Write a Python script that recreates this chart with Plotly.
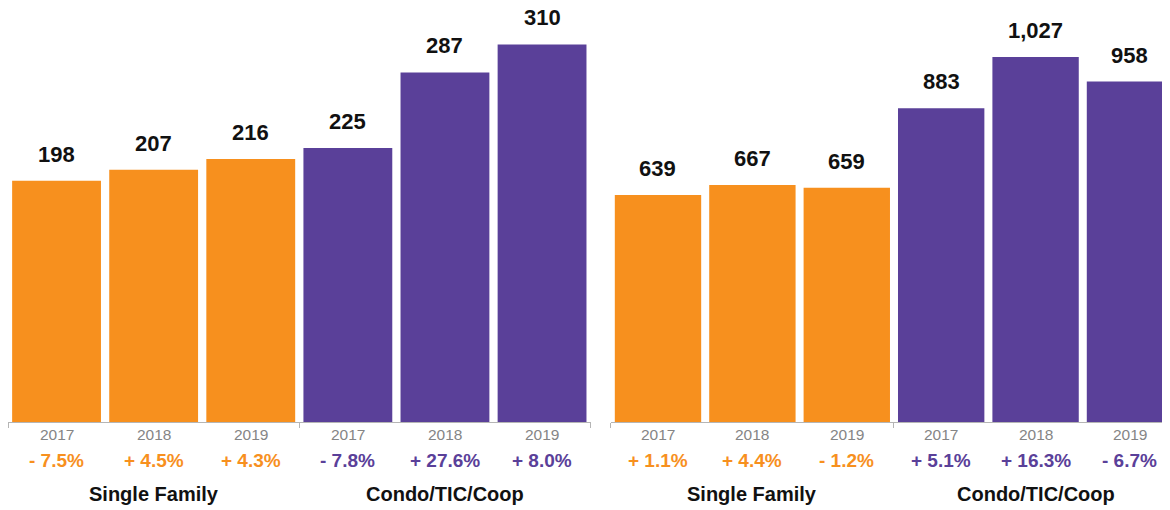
import plotly.graph_objects as go

years = ["2017", "2018", "2019"]
groups = ["Single Family", "Condo/TIC/Coop"]

left_sf = [198, 207, 216]
left_condo = [225, 287, 310]
left_sf_pct = ["- 7.5%", "+ 4.5%", "+ 4.3%"]
left_condo_pct = ["- 7.8%", "+ 27.6%", "+ 8.0%"]

right_sf = [639, 667, 659]
right_condo = [883, 1027, 958]
right_sf_pct = ["+ 1.1%", "+ 4.4%", "- 1.2%"]
right_condo_pct = ["+ 5.1%", "+ 16.3%", "- 6.7%"]

ORANGE = "#F7901E"
PURPLE = "#5A4099"
FONT = "Liberation Sans, Arial, Helvetica, sans-serif"

fig = go.Figure()
annotations = []

panels = [
    ("x", "y", left_sf, left_condo, left_sf_pct, left_condo_pct),
    ("x2", "y2", right_sf, right_condo, right_sf_pct, right_condo_pct),
]

for xr, yr, sf, condo, sfp, cp in panels:
    for gi, (vals, pcts, color) in enumerate([(sf, sfp, ORANGE), (condo, cp, PURPLE)]):
        xs = [gi * 3 + i for i in range(len(vals))]
        fig.add_trace(go.Bar(
            x=xs, y=vals, marker=dict(color=color, line=dict(width=0)),
            xaxis=xr, yaxis=yr, showlegend=False, hoverinfo="skip",
        ))
        for xv, v, p, yl in zip(xs, vals, pcts, years):
            annotations.append(dict(
                x=xv, y=v, xref=xr, yref=yr, text=f"{v:,}", showarrow=False,
                yanchor="bottom", yshift=12,
                font=dict(family=FONT, size=22, color="#111111", weight="bold"),
            ))
            annotations.append(dict(
                x=xv, y=-0.0314, xref=xr, yref="paper", text=yl, showarrow=False,
                yanchor="middle", font=dict(family=FONT, size=15.5, color="#858585"),
            ))
            annotations.append(dict(
                x=xv, y=-0.0918, xref=xr, yref="paper", text=p, showarrow=False,
                yanchor="middle", font=dict(family=FONT, size=19, color=color, weight="bold"),
            ))
        annotations.append(dict(
            x=gi * 3 + 1, y=-0.1739, xref=xr, yref="paper", text=groups[gi], showarrow=False,
            yanchor="middle", font=dict(family=FONT, size=20, color="#111111", weight="bold"),
        ))

xaxis_common = dict(
    showgrid=False, zeroline=False, showline=True, linecolor="#B5B5B5", linewidth=1,
    tickmode="array", tickvals=[-0.5, 2.5, 5.5], ticks="outside", ticklen=5,
    tickcolor="#B5B5B5", showticklabels=False, fixedrange=True,
)
yaxis_common = dict(visible=False, showgrid=False, zeroline=False, fixedrange=True)

fig.update_layout(
    width=1162, height=502,
    margin=dict(l=0, r=0, t=0, b=88),
    paper_bgcolor="white", plot_bgcolor="white",
    bargap=0.085,
    xaxis=dict(domain=[0.0, 0.50138], range=[-0.5, 5.5], **xaxis_common),
    xaxis2=dict(domain=[0.51876, 1.0], range=[-0.5, 5.424], anchor="y2", **xaxis_common),
    yaxis=dict(domain=[0, 1], range=[0, 339.9], anchor="x", **yaxis_common),
    yaxis2=dict(domain=[0, 1], range=[0, 1165.2], anchor="x2", **yaxis_common),
    annotations=annotations,
    font=dict(family=FONT),
)

fig.write_html("out.html")
